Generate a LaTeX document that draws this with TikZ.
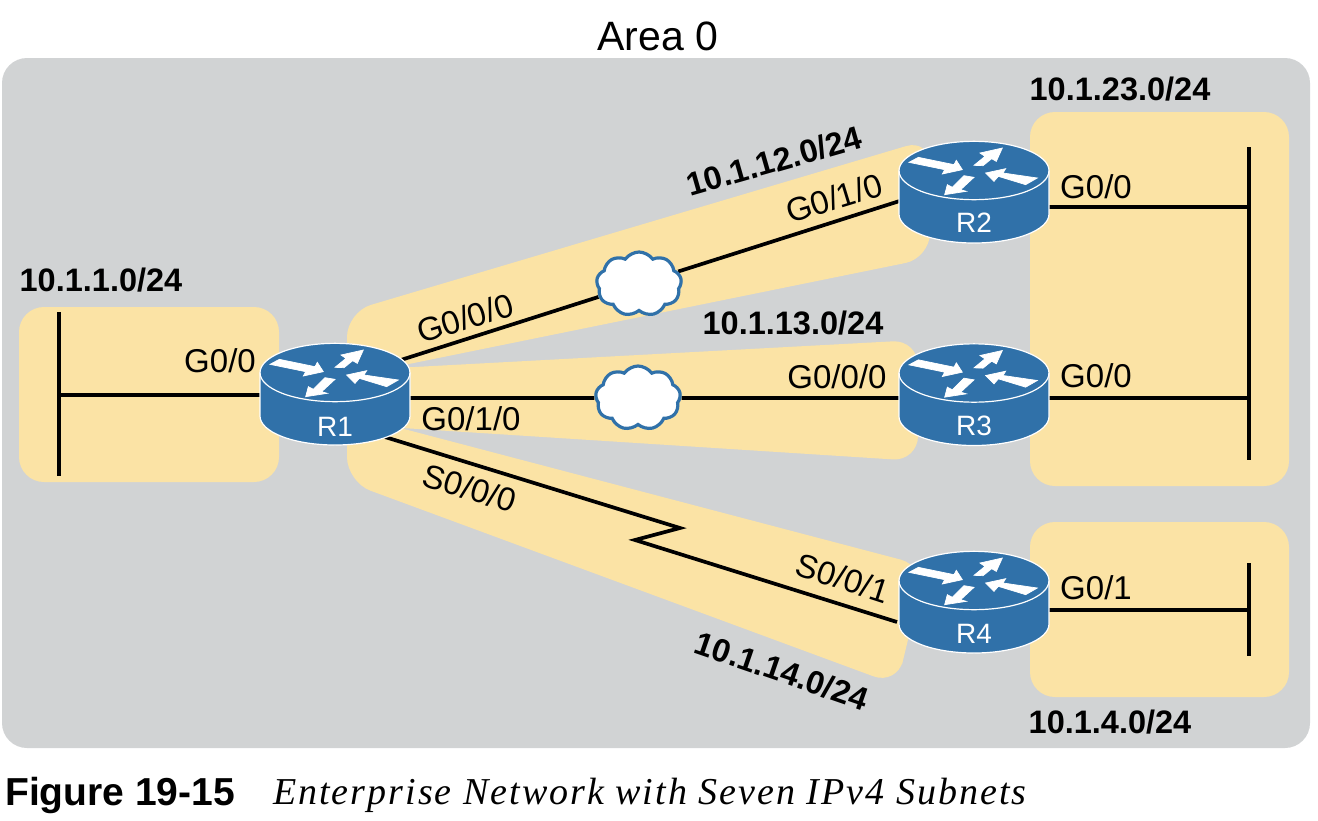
\documentclass[tikz,border=0pt]{standalone}
\usepackage{fontspec}
\setmainfont{Liberation Sans}
\newfontfamily\capserif[LetterSpace=5.3]{Liberation Serif}
\usetikzlibrary{backgrounds,shapes.symbols}
\definecolor{areagray}{HTML}{D1D3D4}
\definecolor{subnetyellow}{HTML}{FBE3A5}
\definecolor{routerblue}{HTML}{3071A9}
\tikzset{
  routerbox/.style={minimum width=150pt,minimum height=102pt,inner sep=0pt},
  wan/.style={cloud,cloud puffs=9,cloud puff arc=110,aspect=1.3,draw=routerblue,line width=3.2pt,fill=white,minimum width=85pt,minimum height=64pt,inner sep=0pt},
  subnet/.style={fill=subnetyellow,rounded corners=25pt},
  wedge/.style={fill=subnetyellow,rounded corners=25pt},
  link/.style={draw=black,line width=3.7pt},
  lan/.style={draw=black,line width=3.8pt},
  iface/.style={font=\fontsize{33}{36}\selectfont,inner sep=0pt},
  net/.style={font=\fontsize{32.5}{36}\selectfont\bfseries,inner sep=0pt},
  rname/.style={font=\fontsize{28}{30}\selectfont,text=white,inner sep=0pt},
  arrowmark/.style={fill=white,draw=white,line width=0.7pt},
}
\newcommand{\routerart}[1]{%
  \begin{scope}[shift={(#1.center)},scale=1/3,shift={(-285,-192)}]
    \path[fill=routerblue,draw=white,line width=1.2pt]
      (60,128) -- (60,258) .. controls (60,306) and (160,345) .. (285,345)
      .. controls (410,345) and (510,306) .. (510,258) -- (510,128)
      .. controls (510,80) and (410,40) .. (285,40)
      .. controls (160,40) and (60,80) .. (60,128) -- cycle;
    \draw[white,line width=1.2pt] (60,128) .. controls (60,176) and (160,215) .. (285,215)
      .. controls (410,215) and (510,176) .. (510,128);
    \path[arrowmark] (90,103) -- (118,88) -- (225,110) -- (232,97) -- (250,125) -- (190,138) -- (197,125) -- cycle;
    \path[arrowmark] (285,112) -- (318,85) -- (303,75) -- (370,60) -- (352,100) -- (338,92) -- (312,113) -- cycle;
    \path[arrowmark] (320,135) -- (380,122) -- (372,135) -- (475,150) -- (440,170) -- (358,145) -- (345,160) -- cycle;
    \path[arrowmark] (197,200) -- (205,170) -- (220,178) -- (255,143) -- (285,148) -- (245,185) -- (262,190) -- cycle;
  \end{scope}}
\begin{document}
\begin{tikzpicture}[x=1pt,y=-1pt]
\useasboundingbox (0,0) rectangle (1318,820);
% nodes
\node[routerbox] (R1) at (335,394) {};
\node[routerbox] (R2) at (974,192) {};
\node[routerbox] (R3) at (974,394.5) {};
\node[routerbox] (R4) at (974,602) {};
\node[wan] (C1) at (639,284) {};
\node[wan] (C2) at (638,398) {};
\coordinate (R1a) at (335,381);
\coordinate (R2a) at (975,177);
\coordinate (R1b) at (335,398);
\coordinate (R3b) at (975,398);
\coordinate (R1c) at (385,437);
\coordinate (Z1) at (680,528);
\coordinate (Z2) at (635,540);
\coordinate (R4c) at (897,622);
\coordinate (LT) at (59,312);
\coordinate (LB) at (59,476);
\coordinate (LM) at (59,395);
\coordinate (BT) at (1249,147);
\coordinate (BB) at (1249,460);
\coordinate (B2) at (1249,207);
\coordinate (B3) at (1249,398);
\coordinate (CT) at (1249,563);
\coordinate (CB) at (1249,656);
\coordinate (B4) at (1249,610);
\coordinate (R2d) at (975,207);
\coordinate (R3d) at (975,398);
\coordinate (R4d) at (975,610);
\coordinate (R1d) at (335,395);
\begin{scope}[on background layer]
  \fill[areagray,rounded corners=25pt] (2,58) rectangle (1310,748);
  \fill[subnet] (19,307) rectangle (279,482);
  \fill[subnet] (1030,112) rectangle (1289,486);
  \fill[subnet] (1030,522) rectangle (1289,697);
  \fill[wedge] (347,312) -- (930,139) -- (930,258) -- (340,378) -- (347,400) -- cycle;
  \fill[wedge] (340,371) -- (918,340) -- (918,461) -- (340,424) -- cycle;
  \fill[wedge] (347,414) -- (925,566) -- (908,640) -- (897,685) -- (347,482) -- cycle;
  \draw[link] (R1a) -- (C1) -- (R2a);
  \draw[link] (R1b) -- (C2) -- (R3b);
  \draw[link,line join=miter] (R1c) -- (Z1) -- (Z2) -- (R4c);
  \draw[lan] (LT) -- (LB);
  \draw[lan] (BT) -- (BB);
  \draw[lan] (CT) -- (CB);
  \draw[link] (LM) -- (R1d);
  \draw[link] (R2d) -- (B2);
  \draw[link] (R3d) -- (B3);
  \draw[link] (R4d) -- (B4);
\end{scope}
\routerart{R1}\routerart{R2}\routerart{R3}\routerart{R4}
\node[rname] (nR1) at (335,427) {R1};
\node[rname] (nR2) at (974,223) {R2};
\node[rname] (nR3) at (974,426) {R3};
\node[rname] (nR4) at (974,634) {R4};
\node[font=\fontsize{41}{44}\selectfont,inner sep=0pt] (area) at (658,36) {Area 0};
\node[net] (n1) at (101,280) {10.1.1.0/24};
\node[net] (n23) at (1120,89) {10.1.23.0/24};
\node[net,rotate=16] (n12) at (774,161) {10.1.12.0/24};
\node[net] (n13) at (793,323) {10.1.13.0/24};
\node[net,rotate=-19] (n14) at (782,671) {10.1.14.0/24};
\node[net] (n4) at (1110,722) {10.1.4.0/24};
\node[iface] (i1) at (220,361) {G0/0};
\node[iface,rotate=17] (i2) at (465,318) {G0/0/0};
\node[iface] (i3) at (471,419) {G0/1/0};
\node[iface,rotate=-17] (i4) at (470,488) {S0/0/0};
\node[iface,rotate=17] (i5) at (834,198) {G0/1/0};
\node[iface] (i6) at (837,377) {G0/0/0};
\node[iface,rotate=-18] (i7) at (843,578) {S0/0/1};
\node[iface] (i8) at (1096,187) {G0/0};
\node[iface] (i9) at (1096,376) {G0/0};
\node[iface] (i10) at (1096,588) {G0/1};
\node[anchor=west,font=\fontsize{39}{42}\selectfont\bfseries,inner sep=0pt] (figno) at (5,795) {Figure 19-15};
\node[anchor=west,font=\fontsize{38}{42}\selectfont\capserif\itshape,inner sep=0pt] (figt) at (273,795) {Enterprise Network with Seven IPv4 Subnets};
\end{tikzpicture}
\end{document}
